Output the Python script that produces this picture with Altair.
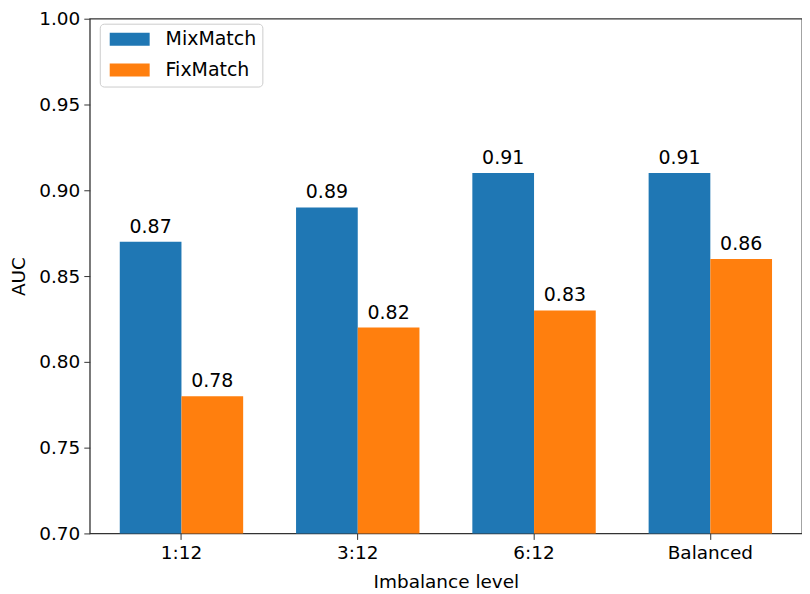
import altair as alt
import pandas as pd

levels = ["1:12", "3:12", "6:12", "Balanced"]
mixmatch = [0.87, 0.89, 0.91, 0.91]
fixmatch = [0.78, 0.82, 0.83, 0.86]
methods = ["MixMatch", "FixMatch"]
colors = ["#1f77b4", "#ff7f0e"]

rows = []
for lv, m, f in zip(levels, mixmatch, fixmatch):
    rows.append({"level": lv, "method": "MixMatch", "auc": m, "label": f"{m:.2f}"})
    rows.append({"level": lv, "method": "FixMatch", "auc": f, "label": f"{f:.2f}"})
df = pd.DataFrame(rows)

FONT = "DejaVu Sans"
FS = 18.5

x = alt.X("level:N", sort=levels, title="Imbalance level",
          scale=alt.Scale(paddingInner=0.3, paddingOuter=0.17),
          axis=alt.Axis(labelAngle=0, labelFontSize=FS, titleFontSize=FS,
                        labelColor="black", titleColor="black", tickColor="#333",
                        domain=False, tickSize=6, labelPadding=4, titlePadding=11,
                        titleFontWeight="normal"))
xo = alt.XOffset("method:N", sort=methods, scale=alt.Scale(paddingInner=0))
y = alt.Y("auc:Q", title="AUC",
          scale=alt.Scale(domain=[0.70, 1.00], zero=False, nice=False),
          axis=alt.Axis(values=[0.70, 0.75, 0.80, 0.85, 0.90, 0.95, 1.00], format=".2f",
                        grid=False, labelFontSize=FS, titleFontSize=FS,
                        labelColor="black", titleColor="black", tickColor="#333",
                        domain=False, tickSize=6, labelPadding=4, titlePadding=10,
                        titleFontWeight="normal"))
color = alt.Color("method:N", sort=methods,
                  scale=alt.Scale(domain=methods, range=colors),
                  legend=alt.Legend(title=None, orient="none", legendX=10, legendY=5,
                                    labelFontSize=19, labelColor="black",
                                    symbolType="M-3.08,-1L3.08,-1L3.08,1L-3.08,1Z",
                                    symbolSize=169, symbolStrokeWidth=0, symbolOpacity=1,
                                    strokeColor="#cccccc", fillColor="white",
                                    padding=6, cornerRadius=4, rowPadding=11,
                                    labelOffset=26.5, symbolOffset=14.5))

base = alt.Chart(df)
bars = base.mark_bar(opacity=1).encode(x=x, xOffset=xo, y=y, y2=alt.datum(0.70), color=color)
texts = base.mark_text(fontSize=19, baseline="alphabetic", dy=-9, color="black", font=FONT).encode(
    x=x, xOffset=xo, y="auc:Q", text="label:N")

chart = (bars + texts).properties(
    width=714, height=516,
    autosize=alt.AutoSizeParams(type="none"),
    padding={"left": 82, "top": 10, "right": 0, "bottom": 60},
).configure(font=FONT).configure_view(stroke="#333", strokeWidth=1.3)

chart.save("out.html", embed_options={"renderer": "svg", "actions": False})
